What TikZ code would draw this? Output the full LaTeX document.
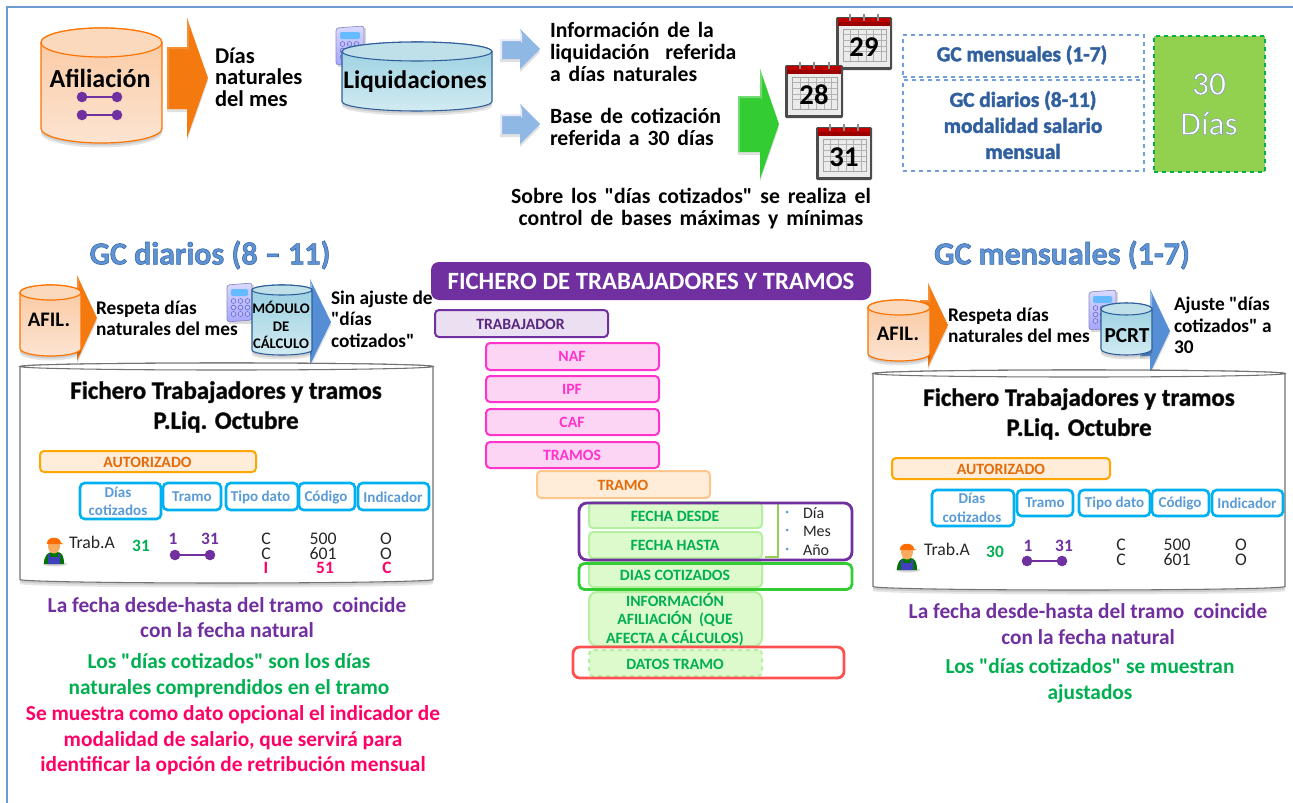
\documentclass[tikz,border=0pt]{standalone}
\usepackage{fontspec}
\setmainfont{Carlito}
\newfontface\widebf{Carlito Bold}[WordSpace=1.6]
\newcommand{\q}{{\widebf"}}
\definecolor{frameblue}{HTML}{6F9BD1}
\definecolor{purp}{HTML}{7030A0}
\definecolor{orgd}{HTML}{E36C0A}
\definecolor{orga}{HTML}{F47A10}
\definecolor{orgt}{HTML}{FBD9BC}
\definecolor{orgb1}{HTML}{FAC8A0}
\definecolor{orgb2}{HTML}{FCE4D2}
\definecolor{bluet}{HTML}{BFE0E9}
\definecolor{blueb1}{HTML}{97CEE0}
\definecolor{blueb2}{HTML}{D2EBF2}
\definecolor{blued}{HTML}{2F5F9A}
\definecolor{arrblue}{HTML}{558ED5}
\definecolor{arrlight}{HTML}{8FB8E4}
\definecolor{grn}{HTML}{00B050}
\definecolor{brgreen}{HTML}{33CC33}
\definecolor{pink}{HTML}{FF0066}
\definecolor{cyanb}{HTML}{00B0F0}
\definecolor{headt}{HTML}{5B9BD5}
\definecolor{magb}{HTML}{FF33CC}
\definecolor{magf}{HTML}{FCD5F5}
\definecolor{lgf}{HTML}{DDFACC}
\definecolor{lgd}{HTML}{B4F0A0}
\definecolor{redb}{HTML}{FF5050}
\definecolor{titleb}{HTML}{5F93D3}
\definecolor{dashb}{HTML}{6F9FE0}
\definecolor{lawn}{HTML}{92D050}
\newcounter{tn}
\newcommand{\T}[4]{\stepcounter{tn}\node[lbl,#1] (t\arabic{tn}) at ({#2},{#3}) {#4};}
\newcommand{\OL}[2]{\special{pdf:code 2 Tr #1 RG}#2\special{pdf:code 0 Tr}}
\newcommand{\Cyl}[9]{%
 \begin{scope}
 \pgfmathsetmacro{\xm}{(#1+#3)/2}\pgfmathsetmacro{\hk}{(#3-#1)/2*0.5523}\pgfmathsetmacro{\rk}{#5*0.5523}\pgfmathsetmacro{\hw}{(#3-#1)/2}
 \def\cylpath{(#1,#2+#5) -- (#1,#4-#5) .. controls (#1,#4-#5+\rk) and (\xm-\hk,#4) .. (\xm,#4) .. controls (\xm+\hk,#4) and (#3,#4-#5+\rk) .. (#3,#4-#5) -- (#3,#2+#5) .. controls (#3,#2+#5-\rk) and (\xm+\hk,#2) .. (\xm,#2) .. controls (\xm-\hk,#2) and (#1,#2+#5-\rk) .. (#1,#2+#5) -- cycle}
 \fill[black,opacity=.10,yshift=-4.5*0.75pt] \cylpath;
 \fill[black,opacity=.10,yshift=-2.5*0.75pt] \cylpath;
 \shade[top color=#7,bottom color=#8,shading angle=0] \cylpath;
 \draw[#9] \cylpath;
 \draw[#9,fill=#6] (\xm,#2+#5) ellipse [x radius=\hw,y radius=#5];
 \end{scope}}
% x-start, x-head, x-tip, y-centre, half-shaft, half-head, main, light
\newcommand{\BArrow}[8]{%
 \fill[black,opacity=.12] (#1,#4-#5+3) -- (#2,#4-#5+3) -- (#2,#4-#6+3) -- (#3,#4+3) -- (#2,#4+#6+3) -- (#2,#4+#5+3) -- (#1,#4+#5+3) -- cycle;
 \fill[#7] (#1,#4-#5) -- (#2,#4-#5) -- (#2,#4-#6) -- (#3,#4) -- (#2,#4+#6) -- (#2,#4+#5) -- (#1,#4+#5) -- cycle;
 \fill[#8] (#1,#4-#5) -- (#2,#4-#5) -- (#2,#4-#5+2) -- (#1+2,#4-#5+2) -- (#1+2,#4+#5) -- (#1,#4+#5) -- cycle;
 \fill[#8] (#2,#4-#6) -- (#2-0,#4-#5+1) -- (#2+2,#4-#5+4) -- (#2+2,#4-#6+6) -- cycle;}
\newcommand{\Dumb}[3]{\draw[purp,line width=1pt] (#1,#3) -- (#2,#3); \fill[purp] (#1,#3) circle [radius=5.3]; \fill[purp] (#2,#3) circle [radius=5.3];}
% calendar x1 y1 x2 y2 number
\newcommand{\Cal}[5]{%
 \begin{scope}
 \pgfmathsetmacro{\cw}{(#3-#1)}\pgfmathsetmacro{\ch}{(#4-#2)}
 \fill[black!70,rounded corners=1pt] (#1,#2+3) rectangle (#3,#4);
 \fill[white!92!black] (#1+3,#2+4) rectangle (#3-2,#4-3);
 \fill[red!60!black] (#1+2,#2+4) rectangle (#3-2,#2+12);
 \fill[red!75!black] (#1+2,#2+4) rectangle (#3-2,#2+8);
 \draw[black!35,line width=.5pt] (#1+7,#2+15) rectangle (#3-6,#4-9);
 \foreach \i in {1,...,5}{\draw[black!30,line width=.4pt] (#1+7+\i*\cw/7.3,#2+15) -- (#1+7+\i*\cw/7.3,#4-9);}
 \foreach \i in {1,...,4}{\draw[black!30,line width=.4pt] (#1+7,#2+15+\i*\ch/10) -- (#3-6,#2+15+\i*\ch/10);}
 \foreach \i in {0.25,0.5,0.75}{\fill[black!45] (#1+\i*\cw-1,#2) rectangle (#1+\i*\cw+1,#2+7);}
 \T{font=\fontsize{21.5}{24}\bfseries\selectfont,text=black}{(#1+#3)/2}{(#2+#4)/2+5}{#5}
 \end{scope}}
\newcommand{\Calc}[4]{%
 \begin{scope}
 \fill[black,opacity=.15] (#1+2,#2+2) rectangle (#3+2,#4+2);
 \shade[top color=blue!15!white,bottom color=blue!35!white,rounded corners=2pt,draw=blue!30!gray!70,line width=.5pt] (#1,#2+2) -- (#3,#2) -- (#3,#4-2) -- (#1,#4) -- cycle;
 \fill[blue!45!cyan!60!white,rounded corners=1pt] (#1+4,#2+6) rectangle (#3-4,#2+13);
 \foreach \a in {0,1,2}{\foreach \b in {0,1,2}{\fill[blue!25!white,draw=blue!40!gray,line width=.3pt] (#1+6.5+\a*7,#2+18+\b*6.5) circle [radius=2.4];}}
 \end{scope}}
\newcommand{\Worker}[2]{%
 \begin{scope}[shift={(#1,#2)}]
 \fill[black,opacity=.15] (13,29) ellipse [x radius=12,y radius=2.5];
 \fill[green!45!black] (2,29) .. controls (2,20) and (6,17) .. (11,17) -- (15,17) .. controls (20,17) and (22,21) .. (22,29) -- cycle;
 \fill[blue!50!gray] (6,29) -- (6,19) -- (8,19) -- (8,22) -- (16,22) -- (16,19) -- (18,19) -- (18,29) -- cycle;
 \fill[orange!60!white!85!brown] (12,11) ellipse [x radius=6,y radius=7.5];
 \fill[orange!85!red] (5,8) .. controls (5,1) and (19,1) .. (19,8) -- (22,9) -- (5,9) -- cycle;
 \end{scope}}
\newcommand{\RBox}[8]{% name x1 y1 x2 y2 fill draw extra
 \node[rbox,draw=#7,fill=#6,minimum width=(#4-#2)*0.75pt,minimum height=(#5-#3)*0.75pt,#8] (#1) at ({(#2+#4)/2},{(#3+#5)/2}) {};}
\newcommand{\HBox}[5]{\node[hdr,minimum width=(#4-#2)*0.75pt,minimum height=(#5-#3)*0.75pt] (hb#1#2) at ({(#2+#4)/2},{(#3+#5)/2}) {};}
\tikzset{
 lbl/.style={inner sep=0pt,outer sep=0pt,align=center},
 bL/.style={font=\fontsize{16.9}{16.2}\bfseries\selectfont,align=left,anchor=west,text=black},
 bW/.style={font=\fontsize{16.3}{16.2}\widebf,align=left,anchor=west,text=black},
 bM/.style={font=\fontsize{14.5}{16}\bfseries\selectfont,align=left,anchor=west,text=black},
 titleT/.style={font=\fontsize{24}{26}\bfseries\selectfont,text=titleb},
 smallT/.style={font=\fontsize{16}{19.5}\bfseries\selectfont,text=blued},
 headT/.style={font=\fontsize{18.7}{22.5}\bfseries\selectfont,text=black},
 hdrT/.style={font=\fontsize{11.3}{14}\bfseries\selectfont,text=headt},
 valT/.style={font=\fontsize{13.3}{10}\selectfont,text=black!85,align=none,text height=7.2pt,text depth=0pt},
 vbT/.style={font=\fontsize{13}{10}\bfseries\selectfont,align=none,text height=7.2pt,text depth=0pt},
 noteT/.style={font=\fontsize{16}{19.2}\bfseries\selectfont},
 boxT/.style={font=\fontsize{11.8}{13.6}\bfseries\selectfont},
 rbox/.style={rounded corners=3pt,line width=1.5pt,inner sep=0pt,outer sep=0pt},
 hdr/.style={draw=cyanb,rounded corners=3.5pt,line width=2pt,inner sep=0pt,outer sep=0pt},
 ringbox/.style={rounded corners=6pt,line width=2.1pt,inner sep=0pt,outer sep=0pt,fill=none},
 dbox/.style={draw=dashb,dashed,line width=.8pt,inner sep=0pt,outer sep=0pt},
}
\begin{document}
\begin{tikzpicture}[x=0.75pt,y=-0.75pt]
\useasboundingbox (0,0) rectangle (1293,803);
\fill[white] (0,0) rectangle (1293,803);
\draw[frameblue,line width=1.3pt] (7,803) -- (7,7) -- (1293,7);
% --- top left
\Cyl{41}{28}{162}{143}{14.5}{orgt}{orgb1}{orgb2}{draw=orange!90!red,line width=.9pt}
\T{font=\fontsize{19.5}{20}\bfseries\selectfont}{100}{78}{Afiliación}
\Dumb{82}{117}{97}\Dumb{82}{117}{115}
\BArrow{167}{187}{208}{78}{31}{60}{orga}{orga!85!white}
\T{bL}{215}{77}{Días\\naturales\\del mes}
% --- Liquidaciones
\Calc{336}{26}{364}{65}
\Cyl{342}{42}{492}{111}{9.5}{bluet}{blueb1}{blueb2}{draw=blued,line width=.8pt}
\T{font=\fontsize{19}{20}\bfseries\selectfont}{415}{82}{Liquidaciones}
\BArrow{500}{520}{540}{49}{10}{20}{arrlight}{blue!8!white}
\BArrow{500}{520}{540}{124}{10}{20}{arrlight}{blue!8!white}
\T{bW}{550}{52}{Información de la\\liquidación\ \ referida\\a días naturales}
\T{bW}{550}{127}{Base de cotización\\referida a 30 días}
\BArrow{738}{760}{779}{124}{28}{55}{brgreen}{brgreen!70!white}
\Cal{836}{14}{892}{70}{29}
\Cal{785}{62}{843}{118}{28}
\Cal{816}{124}{872}{180}{31}
\T{bW,align=center,anchor=center,font=\fontsize{16.3}{16.5}\widebf}{691}{209}{Sobre los "días cotizados" se realiza el\\control de bases máximas y mínimas}
% --- top right
\node[dbox,minimum width=241*0.75pt,minimum height=42*0.75pt] (bm) at (1023.5,56) {};
\node[dbox,minimum width=241*0.75pt,minimum height=91*0.75pt] (bd) at (1023.5,125.5) {};
\T{smallT}{1022}{55}{\OL{0.25 0.42 0.68}{GC mensuales (1-7)}}
\T{smallT}{1023}{125}{\OL{0.25 0.42 0.68}{GC diarios (8-11)\\modalidad salario\\mensual}}
\node[draw=grn,dashed,fill=lawn,line width=1.7pt,inner sep=0pt,minimum width=111*0.75pt,minimum height=136*0.75pt] (g30) at (1209.5,104) {};
\T{font=\fontsize{25}{30}\selectfont,text=white}{1209}{104}{\OL{0.5 0.6 0.75}{30\\Días}}
% --- left section
\T{titleT}{210}{255}{\OL{0.2 0.4 0.65}{GC diarios (8 – 11)}}
\BArrow{70}{77}{97}{318}{25}{43}{orga}{orga!85!white}
\Cyl{20}{285}{81}{356}{7.5}{orgt}{orgb1}{orgb2}{draw=orange!90!red,line width=.9pt}
\T{font=\fontsize{15.5}{16}\bfseries\selectfont}{49}{320}{AFIL.}
\T{bM}{96}{318}{Respeta días\\naturales del mes}
\Calc{227}{283}{252}{322}
\BArrow{300}{310}{331}{322}{25}{43}{arrblue}{arrlight}
\Cyl{252}{285}{312}{355}{5}{bluet}{blueb1}{blueb2}{draw=blued,line width=.8pt}
\T{font=\fontsize{11}{13.1}\bfseries\selectfont}{281}{325}{MÓDULO\\DE\\CÁLCULO}
\T{bM}{331}{319}{Sin ajuste de\\\q días\\cotizados\q}
\Cyl{20}{363}{433}{583}{3.5}{white}{white}{white}{draw=black!55,line width=.8pt}
\T{headT}{226}{407}{\OL{0.2 0.2 0.2}{Fichero Trabajadores y tramos\\P.Liq. Octubre}}
\RBox{aL}{40}{451}{256}{472}{orange!15!white}{orange!70!yellow}{}
\T{boxT,text=orgd}{147.5}{462}{AUTORIZADO}
\HBox{a}{80}{483}{161}{519}\HBox{b}{163}{483}{221}{510}\HBox{c}{226}{483}{298}{510}\HBox{d}{299}{483}{355}{510}\HBox{e}{358}{483}{429}{510}
\T{hdrT}{118}{501.5}{Días\\cotizados}
\T{hdrT}{192}{497}{Tramo}\T{hdrT}{260.5}{497}{Tipo dato}\T{hdrT}{326}{497}{Código}\T{hdrT}{393}{497}{Indicador}
\Worker{42}{535}
\T{valT,anchor=west}{69}{544}{Trab.A}
\T{vbT,text=grn}{141}{547}{31}
\T{vbT,text=purp}{173}{540}{1}\T{vbT,text=purp}{210}{540}{31}
\Dumb{175}{210}{555}
\T{valT}{266}{540}{C}\T{valT}{266}{554.5}{C}
\T{valT}{323}{540}{500}\T{valT}{323}{554.5}{601}
\T{valT}{386}{540}{O}\T{valT}{386}{554.5}{O}
\T{vbT,text=pink}{266}{568.5}{I}\T{vbT,text=pink}{325}{568.5}{51}\T{vbT,text=pink}{387}{568.5}{C}
\T{noteT,text=purp}{227}{617.5}{La fecha desde-hasta del tramo\ \ coincide\\con la fecha natural}
\T{noteT,text=grn}{229}{675.5}{Los \q días cotizados\q\ son los días\\naturales comprendidos en el tramo}
\T{noteT,text=pink}{233}{740.5}{Se muestra como dato opcional el indicador de\\modalidad de salario, que servirá para\\identificar la opción de retribución mensual}
% --- middle
\node[fill=purp,rounded corners=6pt,minimum width=440*0.75pt,minimum height=38*0.75pt,inner sep=0pt] (hdrm) at (651,281) {};
\T{font=\fontsize{18.6}{19}\bfseries\selectfont,text=white}{651}{281}{FICHERO DE TRABAJADORES Y TRAMOS}
\RBox{btr}{435}{310}{608}{337}{purp!15!white}{purp}{}
\T{boxT,text=purp!80!black}{520.5}{324}{TRABAJADOR}
\RBox{bnaf}{486}{343}{659}{370}{magf}{magb}{}\T{boxT,text=magb}{572}{356.5}{NAF}
\RBox{bipf}{486}{376}{659}{402}{magf}{magb}{}\T{boxT,text=magb}{572}{389}{IPF}
\RBox{bcaf}{486}{409}{659}{435}{magf}{magb}{}\T{boxT,text=magb}{572}{422}{CAF}
\RBox{btrs}{486}{442}{659}{468}{magf}{magb}{}\T{boxT,text=magb}{572}{455}{TRAMOS}
\RBox{btra}{537}{471}{710}{498}{orange!15!white}{orange!45!white}{}\T{boxT,text=orgd}{623}{485}{TRAMO}
\RBox{bfd}{589}{502}{762}{528}{lgf}{lgd}{}\T{boxT,text=grn}{675}{516}{FECHA DESDE}
\RBox{bfh}{589}{532}{762}{558}{lgf}{lgd}{}\T{boxT,text=grn}{675}{545}{FECHA HASTA}
\RBox{bdc}{589}{561}{762}{587}{lgf}{lgd}{}\T{boxT,text=grn}{675}{575}{DIAS COTIZADOS}
\RBox{bin}{589}{592}{762}{646}{lgf}{lgd}{rounded corners=6pt}\T{boxT,text=grn}{675}{619.5}{INFORMACIÓN\\AFILIACIÓN\ \ (QUE\\AFECTA A CÁLCULOS)}
\RBox{bdt}{589}{650}{762}{676}{lgf}{lgd}{dashed}\T{boxT,text=grn}{675}{664}{DATOS TRAMO}
\draw[lawn,line width=1.3pt] (765,503) -- (778,503) -- (778,557) -- (765,557);
\fill[headt] (787,512) circle [radius=1.5] (787,530) circle [radius=1.5] (787,549) circle [radius=1.5];
\T{font=\fontsize{12}{13.7}\selectfont,text=black!85,align=left,anchor=west}{803}{531.5}{Día\\Mes\\Año}
\node[ringbox,draw=purp,minimum width=273*0.75pt,minimum height=57*0.75pt] (rp) at (715.5,531.5) {};
\node[ringbox,draw=brgreen,rounded corners=4pt,minimum width=273*0.75pt,minimum height=26*0.75pt] (rg) at (715.5,576.5) {};
\node[ringbox,draw=redb,rounded corners=5pt,minimum width=271*0.75pt,minimum height=31*0.75pt] (rr) at (708.5,662.5) {};
% --- right section
\T{titleT}{1062}{255}{\OL{0.2 0.4 0.65}{GC mensuales (1-7)}}
\BArrow{920}{928}{948}{325}{25}{42}{orga}{orga!85!white}
\Cyl{868}{300}{930}{361}{7.5}{orgt}{orgb1}{orgb2}{draw=orange!90!red,line width=.9pt}
\T{font=\fontsize{15.5}{16}\bfseries\selectfont}{898}{334}{AFIL.}
\T{bM}{948}{325.5}{Respeta días\\naturales del mes}
\Calc{1089}{290}{1116}{330}
\BArrow{1140}{1150}{1170}{331}{25}{42}{arrblue}{arrlight}
\Cyl{1101}{303}{1152}{355}{6}{bluet}{blueb1}{blueb2}{draw=blued,line width=.8pt}
\T{font=\fontsize{16}{16}\bfseries\selectfont}{1127}{336}{PCRT}
\T{bM}{1174}{325.5}{Ajuste \q días\\cotizados\q\ a\\30}
\Cyl{873}{370}{1285}{590}{3.5}{white}{white}{white}{draw=black!55,line width=.8pt}
\T{headT}{1079}{414}{\OL{0.2 0.2 0.2}{Fichero Trabajadores y tramos\\P.Liq. Octubre}}
\RBox{aR}{892}{458}{1110}{479}{orange!15!white}{orange!70!yellow}{}
\T{boxT,text=orgd}{1001}{469}{AUTORIZADO}
\HBox{a}{932}{490}{1014}{526}\HBox{b}{1017}{490}{1073}{516}\HBox{c}{1079}{490}{1150}{516}\HBox{d}{1152}{490}{1209}{516}\HBox{e}{1212}{490}{1283}{516}
\T{hdrT}{972}{508}{Días\\cotizados}
\T{hdrT}{1045}{503}{Tramo}\T{hdrT}{1114.5}{503}{Tipo dato}\T{hdrT}{1180}{503}{Código}\T{hdrT}{1247}{503}{Indicador}
\Worker{895}{541}
\T{valT,anchor=west}{924}{551}{Trab.A}
\T{vbT,text=grn}{995}{553}{30}
\T{vbT,text=purp}{1028}{547}{1}\T{vbT,text=purp}{1064}{547}{31}
\Dumb{1027}{1062}{561}
\T{valT}{1121}{546}{C}\T{valT}{1121}{560.5}{C}
\T{valT}{1177}{546}{500}\T{valT}{1177}{560.5}{601}
\T{valT}{1241}{546}{O}\T{valT}{1241}{560.5}{O}
\T{noteT,text=purp}{1088}{624}{La fecha desde-hasta del tramo\ \ coincide\\con la fecha natural}
\T{noteT,text=grn}{1090}{680.5}{Los \q días cotizados\q\ se muestran\\ajustados}
\end{tikzpicture}
\end{document}
